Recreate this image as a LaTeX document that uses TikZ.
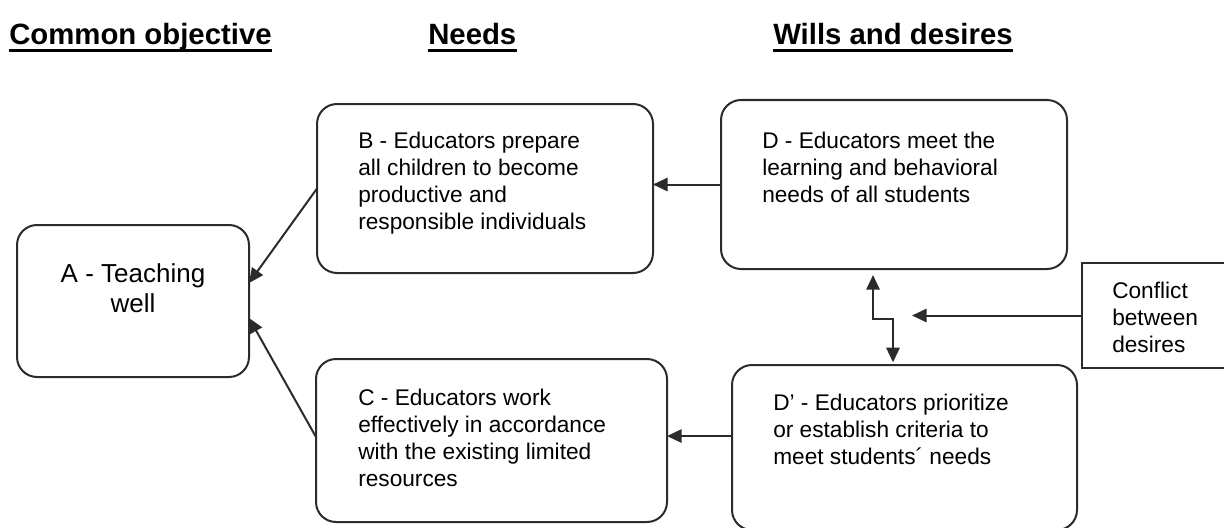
\documentclass[tikz,border=0pt]{standalone}
\usepackage{fontspec}
\setmainfont{Liberation Sans}
\usetikzlibrary{arrows.meta}
\definecolor{ink}{HTML}{2B2B2B}
\tikzset{
  box/.style={draw=ink, line width=1.5pt, rounded corners=15pt, outer sep=0pt, inner sep=0pt},
  sqbox/.style={draw=ink, line width=1.5pt, outer sep=0pt, inner sep=0pt},
  txt/.style={inner sep=0pt, anchor=base west, font=\fontsize{17}{20.25}\selectfont, text=black},
  head/.style={inner sep=0pt, anchor=base west, font=\fontsize{22}{26}\selectfont\bfseries},
  uline/.style={line width=2.2pt, draw=black},
  arr/.style={draw=ink, line width=1.5pt, -{Triangle[length=11pt,width=10pt]}},
  arrb/.style={draw=ink, line width=1.5pt, {Triangle[length=11pt,width=10pt]}-{Triangle[length=11pt,width=10pt]}}
}
\begin{document}
\begin{tikzpicture}[x=0.75pt, y=-0.75pt]
\useasboundingbox (0,0) rectangle (1224,528);
\clip (0,0) rectangle (1224,528);
% headings
\node[head] (H1) at (9,45) {Common objective};
\node[head] (H2) at (428,45) {Needs};
\node[head] (H3) at (773,45) {Wills and desires};
\foreach \h in {H1,H2,H3}{
  \draw[uline] ([yshift=-4pt]\h.base west) -- ([yshift=-4pt]\h.base east);
}
% boxes
\node[box, minimum width=174pt, minimum height=114pt] (A) at (133,301) {};
\node[box, minimum width=252pt, minimum height=126.75pt] (B) at (485,188.5) {};
\node[box, minimum width=263.25pt, minimum height=122.25pt] (C) at (491.5,440.5) {};
\node[box, minimum width=259.5pt, minimum height=126.75pt] (D) at (894,184.5) {};
\node[box, minimum width=258.75pt, minimum height=123.75pt] (Dp) at (904.5,447.5) {};
\node[sqbox, minimum width=118.5pt, minimum height=78.75pt] (K) at (1161,315.5) {};
% texts
\node[inner sep=0pt, anchor=base, font=\fontsize{19.5}{22.5}\selectfont] (At) at (133,282)
  {\parbox[t]{174pt}{\centering A - Teaching\\well}};
\node[txt] (Bt) at (358,148)
  {\parbox[t]{280pt}{B - Educators prepare\\all children to become\\productive and\\responsible individuals}};
\node[txt] (Ct) at (358,405)
  {\parbox[t]{280pt}{C - Educators work\\effectively in accordance\\with the existing limited\\resources}};
\node[txt] (Dt) at (762,148)
  {\parbox[t]{280pt}{D - Educators meet the\\learning and behavioral\\needs of all students}};
\node[txt] (Dpt) at (773,410)
  {\parbox[t]{280pt}{D’ - Educators prioritize\\or establish criteria to\\meet students´ needs}};
\node[txt] (Kt) at (1112,298)
  {\parbox[t]{120pt}{Conflict\\between\\desires}};
% connectors
\draw[arr] (D.west) -- (D.west -| B.east);
\draw[arr] ([yshift=8.6pt]Dp.west) -- ([yshift=8.6pt]Dp.west -| C.east);
\draw[arr] (B.west) -- ([yshift=13.5pt]A.east);
\draw[arr] ([yshift=2.6pt]C.west) -- ([yshift=-12.75pt]A.east);
\coordinate (kt) at (912,318);
\draw[arr] (K.west) -- (K.west -| kt);
\coordinate (z1) at (873,319);
\coordinate (z2) at (893,319);
\draw[arrb, shorten <=4.5pt, shorten >=2pt] (z1 |- D.south) -- (z1) -- (z2) -- (z2 |- Dp.north);
\end{tikzpicture}
\end{document}
